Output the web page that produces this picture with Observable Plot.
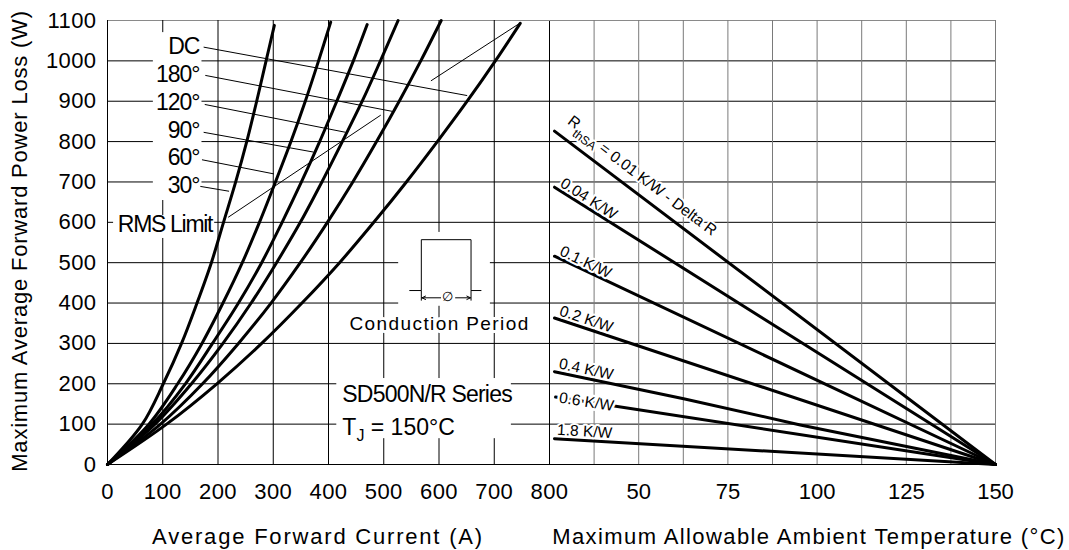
<!DOCTYPE html>
<html>
<head>
<meta charset="utf-8">
<script src="https://cdn.jsdelivr.net/npm/d3@7"></script>
<script src="https://cdn.jsdelivr.net/npm/@observablehq/plot@0.6"></script>
<style>
  html, body { margin: 0; padding: 0; background: #fff; }
  #chart { position: relative; width: 1069px; height: 550px; overflow: hidden; background: #fff;
           font-family: "Liberation Sans", Arial, Helvetica, sans-serif; color: #000; }
  #chart svg { position: absolute; top: 0; }
  .axis-title { position: absolute; font-size: 22px; letter-spacing: 1.4px; white-space: nowrap; line-height: 1; }
</style>
</head>
<body>
<div id="chart"></div>
<script>
// ---------------- DATA ----------------
// Left panel: average forward current (A) at given power-loss levels (W)
const lossLevels = [0, 100, 200, 300, 400, 500, 600, 700, 800, 900, 1000];
const current30  = [0, 63, 101, 134, 162, 188, 210, 232, 252, 270, 287];
const current60  = [0, 75, 127, 171, 209, 244, 275, 304, 332, 358, 382];
const current90  = [0, 81, 141, 190, 237, 279, 316, 351, 384, 415, 445];
const current120 = [0, 86, 152, 209, 260, 306, 349, 388, 425, 461, 494];
const current180 = [0, 96, 172, 237, 296, 349, 398, 444, 487, 528, 567];
const currentDC  = [0, 107, 198, 279, 352, 420, 482, 541, 597, 651, 702];
const curveEnds  = [[302, 1088], [404, 1096], [470, 1090], [526, 1100], [604, 1100], [747, 1093]];
const conductionNames = ["30°", "60°", "90°", "120°", "180°", "DC"];

// RMS limit line (two pieces), [current, loss]
const rmsPieceA = [[219, 613], [494, 865]];
const rmsPieceB = [[586, 951], [746, 1093]];

// Right panel: loss (W) vs ambient temperature (°C) per heat-sink resistance
const sink001 = [[26.4, 826], [150, 0]];
const sink004 = [[26.4, 687], [150, 0]];
const sink01  = [[26.4, 516], [150, 0]];
const sink02  = [[26.4, 363], [150, 0]];
const sink04  = [[26.4, 230], [62.6, 163], [95.3, 98], [150, 0]];
const sink06  = [[26.7, 167], [150, 0]];
const sink18  = [[26.4, 64], [150, 0]];
const sinkNames = ["0.01", "0.04", "0.1", "0.2", "0.4", "0.6", "1.8"];
const sinkLabels = ["RthSA = 0.01 K/W - Delta R", "0.04 K/W", "0.1 K/W", "0.2 K/W", "0.4 K/W", "0.6 K/W", "1.8 K/W"];

// Ticks
const lossTicks = [0, 100, 200, 300, 400, 500, 600, 700, 800, 900, 1000, 1100];
const currentTicks = [0, 100, 200, 300, 400, 500, 600, 700, 800];
const tempTicks = [50, 75, 100, 125, 150];
const tempGrid = [37.5, 50, 62.5, 75, 87.5, 100, 112.5, 125, 137.5, 150];

// ---------------- ANNOTATION LAYOUT ----------------
const leaderFrom = [[174, 1034], [177, 964], [176, 892], [174, 823], [171, 755], [168, 689]];
const leaderTo   = [[651, 914], [515, 875], [431, 823], [373, 774], [301, 720], [220, 677]];
const leaderNames = ["DC", "180°", "120°", "90°", "60°", "30°"];
const leaderLabelBase = [1017, 947, 879, 809, 741, 672];
const labelRight = 166.5;
const sinkLabelStart = [27.5, 27.2, 27.2, 27.2, 27.2, 27.7, 27.0];
const sinkLabelOffset = [11, 3.5, 3, 4, 4, 0, 4];

const leftMasks = [
  {x1: 83, x2: 171, y1: 654, y2: 1070},   // label column
  {x1: 11, x2: 194, y1: 560, y2: 617},    // "RMS Limit"
  {x1: 527, x2: 693, y1: 392, y2: 575},   // conduction symbol
  {x1: 415, x2: 731, y1: 64, y2: 213}     // series box
];
const pulsePath = [[547, 431], [568, 431], [568, 557], [658, 557], [658, 431], [676, 431]];
const pulseTicks = [{x: 568, y1: 431, y2: 406}, {x: 658, y1: 431, y2: 406}];
const pulseArrows = [{x1: 603, x2: 569, y: 413}, {x1: 630, x2: 657, y: 413}];

// ---------------- BUILD ----------------
const fontFamily = '"Liberation Sans", Arial, Helvetica, sans-serif';
const chart = document.getElementById("chart");
const fmt = d3.format("d");

const lossRows = [];
[current30, current60, current90, current120, current180, currentDC].forEach((arr, k) => {
  arr.forEach((a, i) => lossRows.push({series: conductionNames[k], current: a, loss: lossLevels[i]}));
  lossRows.push({series: conductionNames[k], current: curveEnds[k][0], loss: curveEnds[k][1]});
});
const rmsRows = [
  ...rmsPieceA.map(([c, l]) => ({seg: "a", current: c, loss: l})),
  ...rmsPieceB.map(([c, l]) => ({seg: "b", current: c, loss: l}))
];
const leaders = leaderFrom.map((f, i) => ({x1: f[0], y1: f[1], x2: leaderTo[i][0], y2: leaderTo[i][1]}));
const labelRows = leaderNames.map((n, i) => ({text: n, x: labelRight, y: leaderLabelBase[i]}));

const H = 550, MT = 20, MB = 86;
const left = Plot.plot({
  width: 550, height: H, marginLeft: 107, marginRight: 1, marginTop: MT, marginBottom: MB,
  style: {background: "transparent", fontFamily, fontSize: "22px", overflow: "visible", color: "#000"},
  x: {domain: [0, 800], ticks: currentTicks, tickSize: 0, tickPadding: 19, tickFormat: fmt, label: null},
  y: {domain: [0, 1100], ticks: lossTicks, tickSize: 0, tickPadding: 11, tickFormat: fmt, label: null},
  marks: [
    Plot.ruleY(lossTicks.filter(d => d < 1100), {stroke: "#000", strokeWidth: 1}),
    Plot.ruleY([1100], {stroke: "#8a8a8a", strokeWidth: 1}),
    Plot.ruleX(currentTicks, {stroke: "#000", strokeWidth: 1}),
    Plot.rect(leftMasks, {x1: "x1", x2: "x2", y1: "y1", y2: "y2", fill: "white"}),
    Plot.line(lossRows, {x: "current", y: "loss", z: "series", stroke: "#000", strokeWidth: 3, curve: "catmull-rom"}),
    Plot.line(rmsRows, {x: "current", y: "loss", z: "seg", stroke: "#000", strokeWidth: 1}),
    Plot.link(leaders, {x1: "x1", y1: "y1", x2: "x2", y2: "y2", stroke: "#000", strokeWidth: 1}),
    Plot.text(labelRows, {x: "x", y: "y", text: "text", textAnchor: "end", lineAnchor: "bottom", fontSize: 23, fill: "#000"}),
    Plot.text([{t: "RMS Limit", x: 189.5, y: 577}], {x: "x", y: "y", text: "t", textAnchor: "end", lineAnchor: "bottom", fontSize: 23, fill: "#000"}),
    // conduction period symbol
    Plot.line(pulsePath, {x: d => d[0], y: d => d[1], stroke: "#000", strokeWidth: 1}),
    Plot.link(pulseTicks, {x1: "x", x2: "x", y1: "y1", y2: "y2", stroke: "#000", strokeWidth: 1}),
    Plot.arrow(pulseArrows, {x1: "x1", x2: "x2", y1: "y", y2: "y", stroke: "#000", strokeWidth: 1, headLength: 6, headAngle: 50}),
    Plot.text([{t: "∅", x: 615, y: 415}], {x: "x", y: "y", text: "t", fontSize: 13, fill: "#000"}),
    Plot.text([{t: "Conduction Period", x: 601, y: 334}], {x: "x", y: "y", text: "t", textAnchor: "middle", lineAnchor: "bottom", fontSize: 19, fill: "#000", stroke: "white", strokeWidth: 6, paintOrder: "stroke"}),
    Plot.text([{t: "SD500N/R Series", x: 425, y: 154}], {x: "x", y: "y", text: "t", textAnchor: "start", lineAnchor: "bottom", fontSize: 23, fill: "#000"}),
    Plot.text([{t: "TJ = 150°C", x: 425, y: 72}], {x: "x", y: "y", text: "t", textAnchor: "start", lineAnchor: "bottom", fontSize: 23, fill: "#000"})
  ]
});
left.style.left = "0px";
chart.appendChild(left);

// right panel
const RW = 520, RMR = 74;
const plotW = RW - RMR, plotH = H - MT - MB;
const sinkLines = [sink001, sink004, sink01, sink02, sink04, sink06, sink18];
const sinkRows = sinkLines.flatMap((pts, k) => pts.map(([t, w]) => ({r: sinkNames[k], t, w})));
const sinkLabelMarks = sinkLines.map((pts, k) => {
  const [t0, w0] = pts[0], [t1, w1] = pts[pts.length - 1];
  const t = sinkLabelStart[k];
  const w = w0 + (w1 - w0) * (t - t0) / (t1 - t0);
  const ang = Math.atan2((w0 - w1) * plotH / 1100, (t1 - t0) * plotW / 125);
  const off = sinkLabelOffset[k];
  return Plot.text([{t, w, s: sinkLabels[k]}], {
    x: "t", y: "w", text: "s", rotate: ang * 180 / Math.PI, textAnchor: "start",
    lineAnchor: off === 0 ? "middle" : "bottom",
    dx: off * Math.sin(ang), dy: -off * Math.cos(ang),
    fontSize: 15.5, fill: "#000", stroke: "white", strokeWidth: off === 0 ? 5 : 4, paintOrder: "stroke"
  });
});
const right = Plot.plot({
  width: RW, height: H, marginLeft: 0, marginRight: RMR, marginTop: MT, marginBottom: MB,
  style: {background: "transparent", fontFamily, fontSize: "22px", overflow: "visible", color: "#000"},
  x: {domain: [25, 150], ticks: tempTicks, tickSize: 0, tickPadding: 19, tickFormat: fmt, label: null},
  y: {domain: [0, 1100], axis: null},
  marks: [
    Plot.ruleY(lossTicks.filter(d => d < 1100), {stroke: "#000", strokeWidth: 1}),
    Plot.ruleY([1100], {stroke: "#8a8a8a", strokeWidth: 1}),
    Plot.ruleX(tempGrid, {stroke: "#7a7a7a", strokeWidth: 1}),
    Plot.line(sinkRows, {x: "t", y: "w", z: "r", stroke: "#000", strokeWidth: 3}),
    ...sinkLabelMarks
  ]
});
right.style.left = "549px";
chart.appendChild(right);

// ---------------- text refinements (letter spacing, subscripts) ----------------
const SVGNS = "http://www.w3.org/2000/svg";
function eachText(svg, test, fn) {
  svg.querySelectorAll("text").forEach(t => { if (test(t.textContent)) fn(t); });
}
function withSub(t, parts) {
  t.textContent = "";
  for (const [s, dy, fs] of parts) {
    const ts = document.createElementNS(SVGNS, "tspan");
    ts.textContent = s;
    if (dy) ts.setAttribute("dy", dy);
    if (fs) ts.setAttribute("font-size", fs);
    t.appendChild(ts);
  }
}
eachText(left, s => /^\d+$/.test(s), t => t.style.letterSpacing = "0.4px");
eachText(left, s => leaderNames.includes(s), t => t.style.letterSpacing = "-1px");
eachText(left, s => s === "RMS Limit", t => t.style.letterSpacing = "-1.3px");
eachText(left, s => s === "SD500N/R Series", t => t.style.letterSpacing = "-0.8px");
eachText(left, s => s === "Conduction Period", t => t.style.letterSpacing = "1.4px");
eachText(left, s => s === "TJ = 150°C", t => withSub(t, [["T", 0, null], ["J", 6, 16], [" = 150°C", -6, null]]));
eachText(right, s => s === "RthSA = 0.01 K/W - Delta R", t => withSub(t, [["R", -3, null], ["thSA", 7, 12], [" = 0.01 K/W - Delta R", -4, null]]));

// ---------------- axis titles ----------------
function title(text, css) {
  const d = document.createElement("div");
  d.className = "axis-title";
  d.textContent = text;
  Object.assign(d.style, css);
  chart.appendChild(d);
  return d;
}
title("Maximum Average Forward Power Loss (W)", {left: "20px", top: "241px", transform: "translate(-50%, -50%) rotate(-90deg)", letterSpacing: "0.8px"});
title("Average Forward Current (A)", {left: "318px", top: "526px", transform: "translateX(-50%)", letterSpacing: "1.8px"});
title("Maximum Allowable Ambient Temperature (°C)", {left: "809px", top: "526px", transform: "translateX(-50%)"});
</script>
</body>
</html>
